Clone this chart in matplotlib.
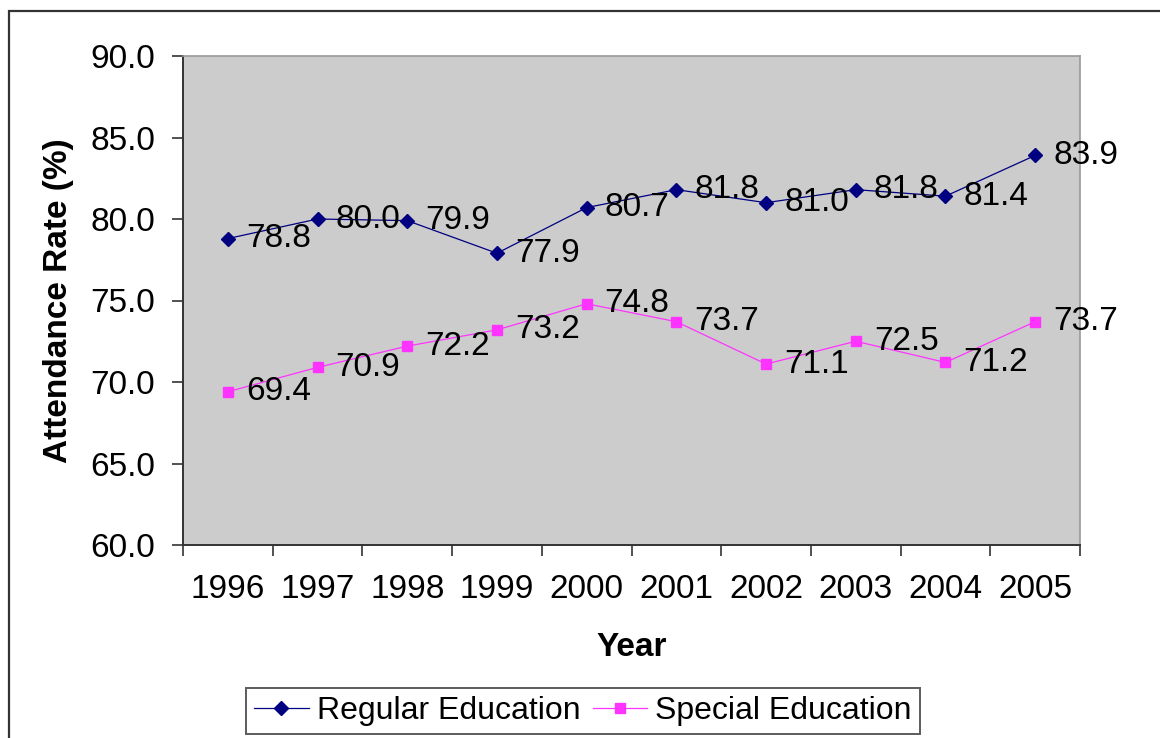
import matplotlib
matplotlib.use("Agg")
import matplotlib.pyplot as plt
from matplotlib.patches import Rectangle

plt.rcParams['font.family'] = ['Liberation Sans', 'DejaVu Sans']

years = ["1996", "1997", "1998", "1999", "2000", "2001", "2002", "2003", "2004", "2005"]
regular = [78.8, 80.0, 79.9, 77.9, 80.7, 81.8, 81.0, 81.8, 81.4, 83.9]
special = [69.4, 70.9, 72.2, 73.2, 74.8, 73.7, 71.1, 72.5, 71.2, 73.7]
y_ticks = [60.0, 65.0, 70.0, 75.0, 80.0, 85.0, 90.0]

W, H = 1160, 738
FS = 24
fig = plt.figure(figsize=(W / 100, H / 100), dpi=100)

# chart-area frame, running past the right and bottom edges
fig.patches.append(Rectangle((9 / W, -0.2), 1.5, 1.2 - 11 / H,
                             transform=fig.transFigure, fill=False,
                             edgecolor="#333333", linewidth=1.6))

ax = fig.add_axes([183 / W, 1 - 545 / H, (1080 - 183) / W, (545 - 56) / H])
ax.set_facecolor("#CCCCCC")

x = list(range(len(years)))
ax.plot(x, regular, color="#000080", linewidth=0.9, marker="D", markersize=7.5,
        markerfacecolor="#000080", markeredgecolor="#000080", label="Regular Education")
ax.plot(x, special, color="#FF33FF", linewidth=0.9, marker="s", markersize=6.5,
        markerfacecolor="#FF33FF", markeredgecolor="#FF33FF", label="Special Education")

for xi, v in zip(x, regular):
    ax.annotate(f"{v:.1f}", (xi, v), xytext=(13, 0), textcoords="offset points",
                ha="left", va="center", fontsize=FS, color="black")
for xi, v in zip(x, special):
    ax.annotate(f"{v:.1f}", (xi, v), xytext=(13, 0), textcoords="offset points",
                ha="left", va="center", fontsize=FS, color="black")

ax.set_xlim(-0.5, len(years) - 0.5)
ax.set_ylim(60, 90)
ax.set_yticks(y_ticks)
ax.set_yticklabels([f"{t:.1f}" for t in y_ticks], fontsize=FS)
ax.set_xticks(x)
ax.set_xticklabels(years, fontsize=FS)
ax.tick_params(axis="x", length=0, pad=21)
ax.set_xticks([i - 0.5 for i in range(len(years) + 1)], minor=True)
ax.tick_params(axis="x", which="minor", length=8, width=1.2, color="#333333", direction="out")
ax.tick_params(axis="y", length=8, width=1.2, color="#333333", direction="out", pad=12)

for side in ("left", "bottom"):
    ax.spines[side].set_color("#333333")
    ax.spines[side].set_linewidth(1.4)
for side in ("top", "right"):
    ax.spines[side].set_color("#999999")
    ax.spines[side].set_linewidth(1.2)

ax.set_xlabel("Year", fontsize=FS, fontweight="bold", labelpad=19)
ax.set_ylabel("Attendance Rate (%)", fontsize=FS, fontweight="bold", labelpad=12)

leg = fig.legend(loc="center", bbox_to_anchor=(583 / W, 1 - 711 / H), ncol=2,
                 fontsize=23, frameon=True, fancybox=False, shadow=False,
                 handlelength=1.7, handletextpad=0.25, columnspacing=0.4,
                 borderpad=0.25, borderaxespad=0)
leg.get_frame().set_edgecolor("#333333")
leg.get_frame().set_linewidth(1.4)

fig.savefig("out.png", dpi=100)
